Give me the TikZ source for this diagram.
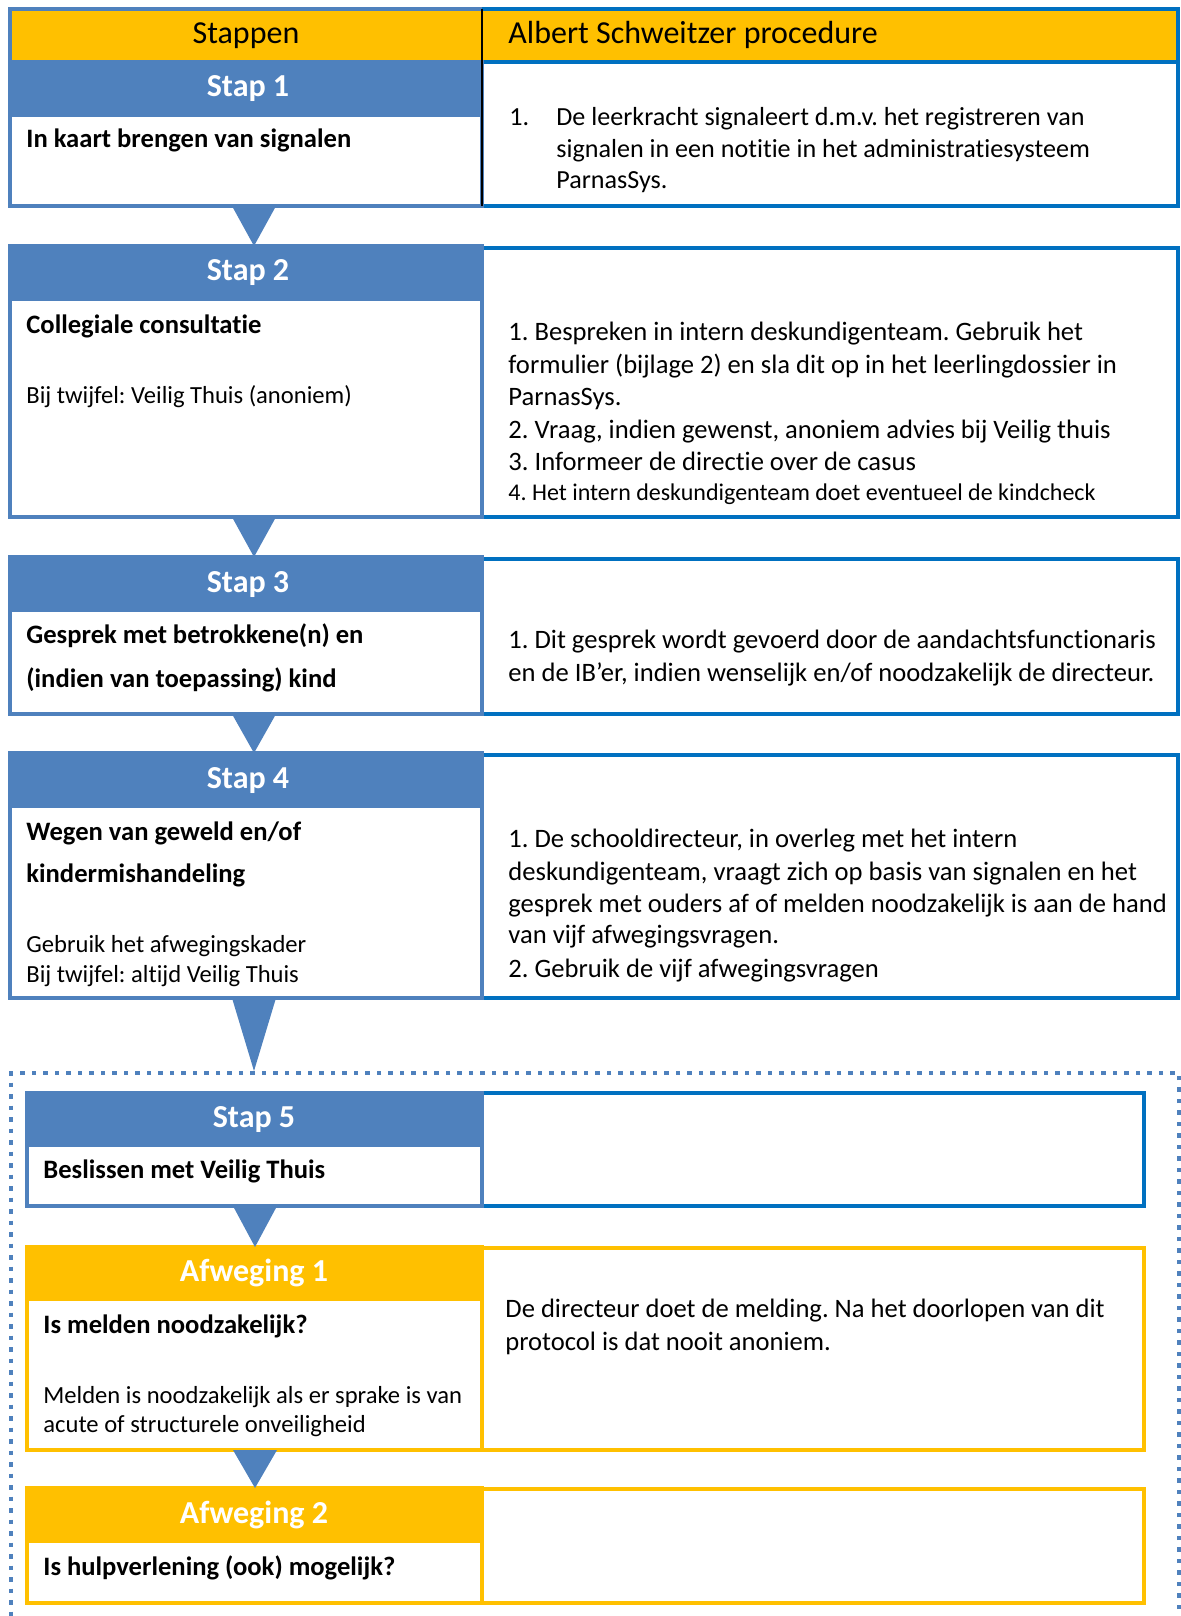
\documentclass[tikz,border=0pt]{standalone}
\usepackage{fontspec}
\setmainfont{Carlito}[Ligatures=NoCommon]
\usetikzlibrary{fit}
\definecolor{myyellow}{HTML}{FFC000}
\definecolor{hdrblue}{HTML}{4F81BD}
\definecolor{boxblue}{HTML}{0070C0}
\begin{document}
\frenchspacing
\begin{tikzpicture}[x=0.5pt,y=-0.5pt,
  bframe/.style={inner sep=0pt, outer sep=0pt, line width=1.75pt},
  lbox/.style={bframe, draw=hdrblue},
  rbox/.style={bframe, draw=boxblue},
  ybox/.style={bframe, draw=myyellow},
  hfill/.style={inner sep=0pt, outer sep=0pt, fill=#1},
  steptitle/.style={font=\fontsize{16}{19}\selectfont\bfseries\frenchspacing, text=white, anchor=base, inner sep=0pt},
  txt/.style={font=\fontsize{13.3}{16}\selectfont\frenchspacing, anchor=base west, inner sep=0pt},
  ltxt/.style={txt, font=\fontsize{12.3}{15}\selectfont\frenchspacing},
  btxt/.style={txt, font=\fontsize{13.3}{16}\selectfont\bfseries\frenchspacing},
  stxt/.style={txt, font=\fontsize{12}{14}\selectfont\frenchspacing},
  s1txt/.style={txt, font=\fontsize{13.05}{16}\selectfont\frenchspacing},
  htxt/.style={font=\fontsize{16}{19}\selectfont\frenchspacing, inner sep=0pt},
  tri/.style={fill=hdrblue},
  dotbox/.style={draw=hdrblue, line width=2pt, dash pattern=on 2.25pt off 3.5pt}
]
\useasboundingbox (0,0) rectangle (1181,1616);
\fill[white] (0,0) rectangle (1181,1616);

% ---------- header + Stap 1 ----------
\node (hdr) [hfill=myyellow, fit={(10,9) (1178,62)}] {};
\node (s1H) [hfill=hdrblue, fit={(10,62) (482,117)}] {};
\node (s1R) [rbox, fit={(482,62) (1178,206)}] {};
\node (s1L) [lbox, fit={(10,62) (482,206)}] {};
\draw[hdrblue, line width=1.75pt] (hdr.south west) -- (hdr.north west) -- (s1R.north west |- hdr.north);
\draw[boxblue, line width=1.75pt] (s1R.north west |- hdr.north) -- (hdr.north east) -- (hdr.south east);
\draw[black, line width=0.7pt] (s1R.north west |- hdr.north) -- (s1R.south west);

\node (hStap) [htxt, anchor=base] at (246,44) {Stappen};
\node (hProc) [htxt, anchor=base west] at (508,44) {Albert Schweitzer procedure};
\node (s1T) [steptitle] at (248,97) {Stap 1};
\node (s1a) [btxt] at (26,148) {In kaart brengen van signalen};
\node (s1n) [s1txt] at (509,126) {1.};
\node (s1b) [s1txt] at (556,126) {De leerkracht signaleert d.m.v. het registreren van};
\node (s1c) [s1txt] at (556,157) {signalen in een notitie in het administratiesysteem};
\node (s1d) [s1txt] at (556,188) {ParnasSys.};

% ---------- Stap 2 ----------
\node (s2H) [hfill=hdrblue, fit={(10,246) (482,301)}] {};
\node (s2R) [rbox, fit={(482,248) (1178,517)}] {};
\node (s2L) [lbox, fit={(10,246) (482,517)}] {};
\fill[tri] (s1L.south -| 232,0) -- (s1L.south -| 276,0) -- (s2L.north -| 254,0) -- cycle;
\node (s2T) [steptitle] at (248,280) {Stap 2};
\node (s2a) [btxt] at (26,333) {Collegiale consultatie};
\node (s2b) [ltxt] at (26,403) {Bij twijfel: Veilig Thuis (anoniem)};
\node (s2c) [txt] at (508,340) {1. Bespreken in intern deskundigenteam. Gebruik het};
\node (s2d) [txt] at (508,373) {formulier (bijlage 2) en sla dit op in het leerlingdossier in};
\node (s2e) [txt] at (508,405) {ParnasSys.};
\node (s2f) [txt] at (508,438) {2. Vraag, indien gewenst, anoniem advies bij Veilig thuis};
\node (s2g) [txt] at (508,470) {3. Informeer de directie over de casus};
\node (s2h) [stxt] at (508,500) {4. Het intern deskundigenteam doet eventueel de kindcheck};

% ---------- Stap 3 ----------
\node (s3H) [hfill=hdrblue, fit={(10,557) (482,612)}] {};
\node (s3R) [rbox, fit={(482,559) (1178,714)}] {};
\node (s3L) [lbox, fit={(10,557) (482,714)}] {};
\fill[tri] (s2L.south -| 232,0) -- (s2L.south -| 276,0) -- (s3L.north -| 254,0) -- cycle;
\node (s3T) [steptitle] at (248,592) {Stap 3};
\node (s3a) [btxt] at (26,643) {Gesprek met betrokkene(n) en};
\node (s3b) [btxt] at (26,687) {(indien van toepassing) kind};
\node (s3c) [txt] at (508,648) {1. Dit gesprek wordt gevoerd door de aandachtsfunctionaris};
\node (s3d) [txt] at (508,681) {en de IB’er, indien wenselijk en/of noodzakelijk de directeur.};

% ---------- Stap 4 ----------
\node (s4H) [hfill=hdrblue, fit={(10,753) (482,808)}] {};
\node (s4R) [rbox, fit={(482,755) (1178,998)}] {};
\node (s4L) [lbox, fit={(10,753) (482,998)}] {};
\fill[tri] (s3L.south -| 232,0) -- (s3L.south -| 276,0) -- (s4L.north -| 254,0) -- cycle;
\node (s4T) [steptitle] at (248,788) {Stap 4};
\node (s4a) [btxt] at (26,840) {Wegen van geweld en/of};
\node (s4b) [btxt] at (26,882) {kindermishandeling};
\node (s4c) [ltxt] at (26,952) {Gebruik het afwegingskader};
\node (s4d) [ltxt] at (26,982) {Bij twijfel: altijd Veilig Thuis};
\node (s4e) [txt] at (508,847) {1. De schooldirecteur, in overleg met het intern};
\node (s4f) [txt] at (508,880) {deskundigenteam, vraagt zich op basis van signalen en het};
\node (s4g) [txt] at (508,912) {gesprek met ouders af of melden noodzakelijk is aan de hand};
\node (s4h) [txt] at (508,943) {van vijf afwegingsvragen.};
\node (s4i) [txt] at (508,977) {2. Gebruik de vijf afwegingsvragen};

% ---------- dotted frame ----------
\begin{scope}
\clip (0,0) rectangle (1181,1616);
\node (dot) [dotbox, inner sep=0pt, fit={(11,1073) (1179,1660)}] {};
\end{scope}

% ---------- Stap 5 ----------
\node (s5H) [hfill=hdrblue, fit={(27,1093) (482,1147)}] {};
\node (s5R) [rbox, fit={(482,1093) (1144,1206)}] {};
\node (s5L) [lbox, fit={(27,1093) (482,1206)}] {};
\fill[tri] (s4L.south -| 232,0) -- (s4L.south -| 276,0) -- (dot.north -| 254,0) -- cycle;
\node (s5T) [steptitle] at (254,1127) {Stap 5};
\node (s5a) [btxt] at (43,1178) {Beslissen met Veilig Thuis};

% ---------- Afweging 1 ----------
\node (a1H) [hfill=myyellow, fit={(27,1247) (482,1301)}] {};
\node (a1R) [ybox, fit={(482,1248) (1144,1450)}] {};
\node (a1L) [ybox, fit={(27,1247) (482,1450)}] {};
\fill[tri] (s5L.south -| 233,0) -- (s5L.south -| 277,0) -- (a1L.north -| 255,0) -- cycle;
\node (a1T) [steptitle] at (254,1281) {Afweging 1};
\node (a1a) [btxt] at (43,1333) {Is melden noodzakelijk?};
\node (a1b) [ltxt] at (43,1403) {Melden is noodzakelijk als er sprake is van};
\node (a1c) [ltxt] at (43,1432) {acute of structurele onveiligheid};
\node (a1d) [txt] at (505,1317) {De directeur doet de melding. Na het doorlopen van dit};
\node (a1e) [txt] at (505,1350) {protocol is dat nooit anoniem.};

% ---------- Afweging 2 ----------
\node (a2H) [hfill=myyellow, fit={(27,1488) (482,1543)}] {};
\node (a2R) [ybox, fit={(482,1489) (1144,1603)}] {};
\node (a2L) [ybox, fit={(27,1488) (482,1603)}] {};
\fill[tri] (a1L.south -| 233,0) -- (a1L.south -| 277,0) -- (a2L.north -| 255,0) -- cycle;
\node (a2T) [steptitle] at (254,1523) {Afweging 2};
\node (a2a) [btxt] at (43,1575) {Is hulpverlening (ook) mogelijk?};
\end{tikzpicture}
\end{document}
